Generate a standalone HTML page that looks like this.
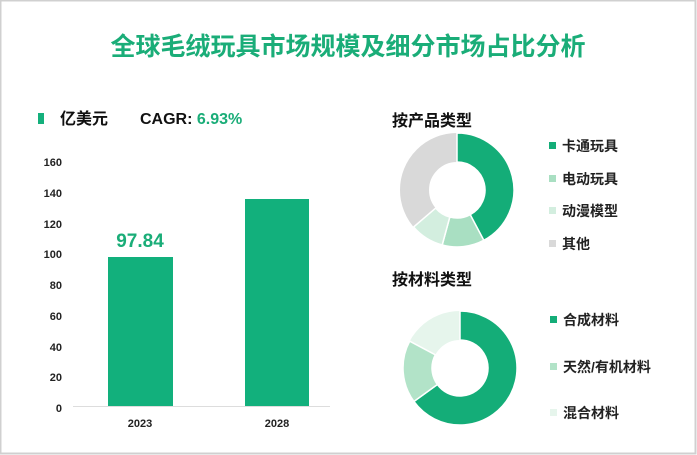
<!DOCTYPE html><html><head><meta charset="utf-8"><style>
body{margin:0;background:#fff;}
svg{display:block;font-family:"Liberation Sans","Noto Sans CJK SC",sans-serif;}
</style></head><body>
<svg width="697" height="455" viewBox="0 0 697 455">
<rect x="0.5" y="0.5" width="695" height="453" fill="#fff" stroke="#d0d0d0" stroke-width="2"/>
<text x="348" y="55" text-anchor="middle" font-size="25" font-weight="bold" fill="#1aad78">全球毛绒玩具市场规模及细分市场占比分析</text>
<rect x="38" y="113" width="6" height="11" fill="#14b07c"/>
<text x="60" y="124" font-size="16" font-weight="bold" fill="#111">亿美元</text>
<text x="140" y="124" font-size="16" font-weight="bold" fill="#111">CAGR: <tspan fill="#1aad78">6.93%</tspan></text>
<g font-size="11" font-weight="bold" fill="#222" text-anchor="end">
<text x="62" y="166">160</text><text x="62" y="197">140</text><text x="62" y="228">120</text><text x="62" y="258">100</text><text x="62" y="289">80</text><text x="62" y="320">60</text><text x="62" y="351">40</text><text x="62" y="381">20</text><text x="62" y="412">0</text>
</g>
<line x1="73" y1="406.5" x2="330" y2="406.5" stroke="#ddd"/>
<rect x="108" y="257" width="65" height="149" fill="#12b07c"/>
<rect x="245" y="199" width="64" height="207" fill="#12b07c"/>
<text x="140" y="247" text-anchor="middle" font-size="19" font-weight="bold" fill="#1aad78">97.84</text>
<g font-size="11" font-weight="bold" fill="#222" text-anchor="middle">
<text x="140" y="427">2023</text><text x="277" y="427">2028</text>
</g>
<text x="392" y="126" font-size="16" font-weight="bold" fill="#111">按产品类型</text>
<text x="392" y="285" font-size="16" font-weight="bold" fill="#111">按材料类型</text>
<g transform="translate(457,190)" stroke="#fff" stroke-width="1.5">
<circle r="42.5" fill="none" stroke="#d9d9d9" stroke-width="29"/>
<path d="M0,-57 A57,57 0 0 1 26.8,50.3 L13.2,24.7 A28,28 0 0 0 0,-28Z" fill="#14ad78"/>
<path d="M26.8,50.3 A57,57 0 0 1 -14.8,55 L-7.2,27 A28,28 0 0 0 13.2,24.7Z" fill="#a9dfc2"/>
<path d="M-14.8,55 A57,57 0 0 1 -43.4,37 L-21.3,18.1 A28,28 0 0 0 -7.2,27Z" fill="#d3eedf"/>
</g>
<g transform="translate(460,368)" stroke="#fff" stroke-width="1.5">
<circle r="42.5" fill="none" stroke="#e6f5ec" stroke-width="29"/>
<path d="M0,-57 A57,57 0 1 1 -46.1,33.5 L-22.6,16.5 A28,28 0 1 0 0,-28Z" fill="#14ad78"/>
<path d="M-46.1,33.5 A57,57 0 0 1 -50.3,-26.8 L-24.7,-13.2 A28,28 0 0 0 -22.6,16.5Z" fill="#b2e3c8"/>
</g>
<g font-size="14" font-weight="bold" fill="#222">
<rect x="549" y="142" width="7" height="7" fill="#14ad78"/><text x="562" y="151">卡通玩具</text>
<rect x="549" y="175" width="7" height="7" fill="#a9dfc2"/><text x="562" y="184">电动玩具</text>
<rect x="549" y="207" width="7" height="7" fill="#d3eedf"/><text x="562" y="216">动漫模型</text>
<rect x="549" y="240" width="7" height="7" fill="#d9d9d9"/><text x="562" y="249">其他</text>
<rect x="550" y="316" width="7" height="7" fill="#14ad78"/><text x="563" y="325">合成材料</text>
<rect x="550" y="363" width="7" height="7" fill="#b2e3c8"/><text x="563" y="372">天然/有机材料</text>
<rect x="550" y="409" width="7" height="7" fill="#e6f5ec"/><text x="563" y="418">混合材料</text>
</g>
</svg>
</body></html>
